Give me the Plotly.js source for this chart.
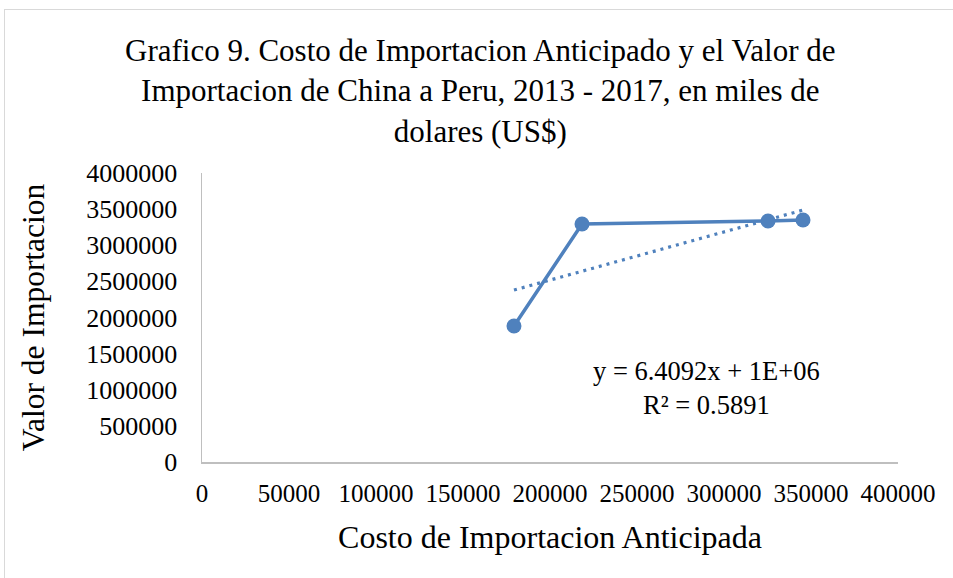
<!DOCTYPE html>
<html>
<head>
<meta charset="utf-8">
<script src="https://cdn.plot.ly/plotly-3.0.1.min.js"></script>
<style>
html,body{margin:0;padding:0;background:#fff;overflow:hidden;}
#wrap{position:relative;width:953px;height:578px;}
#chart{width:953px;height:578px;}
#frame{position:absolute;left:4px;top:9px;width:1200px;height:1000px;border-left:1px solid #d9d9d9;border-top:1px solid #d9d9d9;pointer-events:none;}
</style>
</head>
<body>
<div id="wrap"><div id="chart"></div><div id="frame"></div></div>
<script>
// Data
const costoAnticipado = [179300, 218400, 325300, 345400];   // x: Costo de Importacion Anticipada
const valorImportacion = [1882000, 3294000, 3335000, 3349000]; // y: Valor de Importacion
const xTicks = [0, 50000, 100000, 150000, 200000, 250000, 300000, 350000, 400000];
const yTicks = [0, 500000, 1000000, 1500000, 2000000, 2500000, 3000000, 3500000, 4000000];
const equationText = 'y = 6.4092x + 1E+06<br>R² = 0.5891';

// Linear least-squares trendline from the data
const n = costoAnticipado.length;
const mx = costoAnticipado.reduce((a,b)=>a+b,0)/n;
const my = valorImportacion.reduce((a,b)=>a+b,0)/n;
let sxy=0,sxx=0;
for(let i=0;i<n;i++){sxy+=(costoAnticipado[i]-mx)*(valorImportacion[i]-my);sxx+=(costoAnticipado[i]-mx)**2;}
const slope=sxy/sxx, intercept=my-slope*mx;
const xmin=Math.min(...costoAnticipado), xmax=Math.max(...costoAnticipado);
const trendX=[xmin,xmax];
const trendY=trendX.map(v=>slope*v+intercept);

const blue='#4f81bd';
const serif='"Liberation Serif", "Times New Roman", serif';

const traces=[
 {x:trendX,y:trendY,type:'scatter',mode:'lines',line:{color:blue,width:3.2,dash:'3px,5px'},hoverinfo:'skip',showlegend:false},
 {x:costoAnticipado,y:valorImportacion,type:'scatter',mode:'lines+markers',
  line:{color:blue,width:3.5},marker:{color:blue,size:15},showlegend:false}
];

const layout={
 width:953,height:578,
 margin:{l:202,r:55,t:173,b:116},
 paper_bgcolor:'#fff',plot_bgcolor:'#fff',
 font:{family:serif,color:'#000'},
 title:{text:'Grafico 9. Costo de Importacion Anticipado y el Valor de<br>Importacion de China a Peru, 2013 - 2017, en miles de<br>dolares (US$)',
   font:{family:serif,size:31,color:'#000'},x:0.504,xref:'container',xanchor:'center',
   y:1-61/578,yref:'container',yanchor:'top'},
 xaxis:{range:[0,400000],tickvals:xTicks,ticktext:xTicks.map(String),showgrid:false,zeroline:false,
   showline:true,linecolor:'#bfbfbf',linewidth:1.5,ticks:'',ticklabelstandoff:8,
   tickfont:{family:serif,size:25,color:'#000'},
   title:{text:'Costo de Importacion Anticipada',font:{family:serif,size:32,color:'#000'},standoff:20}},
 yaxis:{range:[0,4000000],tickvals:yTicks,ticktext:yTicks.map(String),showgrid:false,zeroline:false,
   showline:true,linecolor:'#bfbfbf',linewidth:1.5,ticks:'',ticklabelstandoff:18,
   tickfont:{family:serif,size:26,color:'#000'},
   title:{text:'Valor de Importacion',font:{family:serif,size:31.5,color:'#000'},standoff:32}},
 annotations:[{text:equationText,x:290000,y:1030000,xref:'x',yref:'y',showarrow:false,
   font:{family:serif,size:26.5,color:'#000'},align:'center',xanchor:'center',yanchor:'middle'}]
};
Plotly.newPlot('chart',traces,layout,{displayModeBar:false,staticPlot:true});
</script>
</body>
</html>
